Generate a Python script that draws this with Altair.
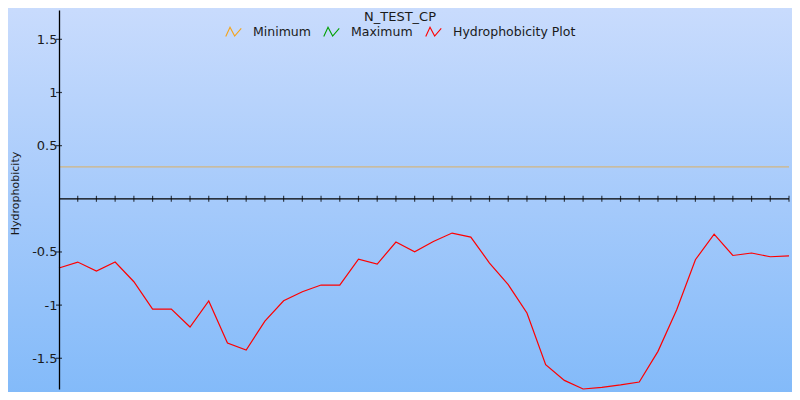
import altair as alt
import pandas as pd

# ---- data ----
title_text = "N_TEST_CP"
y_title = "Hydrophobicity"
series_names = ["Minimum", "Maximum", "Hydrophobicity Plot"]
series_colors = ["#f5a31a", "#00a000", "#ff0000"]
positions = list(range(40))
hydro = [-0.651, -0.595, -0.680, -0.595, -0.780, -1.037, -1.037, -1.206, -0.961, -1.356,
         -1.422, -1.151, -0.959, -0.874, -0.811, -0.811, -0.567, -0.614, -0.407, -0.498,
         -0.401, -0.322, -0.360, -0.604, -0.808, -1.074, -1.560, -1.708, -1.789, -1.773,
         -1.751, -1.723, -1.435, -1.043, -0.573, -0.332, -0.533, -0.510, -0.545, -0.536]
minimum_level = 0.3
y_ticks = [1.5, 1, 0.5, -0.5, -1, -1.5]
x_ticks = list(range(1, 40))
x_domain = [0, 39]
y_domain = [-1.789, 1.776]

W, H = 730, 379
FONT = "DejaVu Sans"
TXT = "#1a1a1a"

line_df = pd.DataFrame({"pos": positions, "val": hydro, "series": series_names[2]})
min_df = pd.DataFrame({"pos": [x_domain[0]], "pos2": [x_domain[1]], "val": [minimum_level],
                       "series": [series_names[0]]})
zero_df = pd.DataFrame({"pos": [x_domain[0]], "pos2": [x_domain[1]], "val": [0.0]})
xtick_df = pd.DataFrame({"pos": x_ticks, "val": [0.0] * len(x_ticks)})
ytick_df = pd.DataFrame({"val": y_ticks})
title_df = pd.DataFrame({"t": [title_text]})
bg_df = pd.DataFrame({"k": [0]})

xs = alt.Scale(domain=x_domain, nice=False, zero=False)
ys = alt.Scale(domain=y_domain, nice=False, zero=False)

y_axis = alt.Axis(values=y_ticks, labelExpr="'' + datum.value", ticks=False, grid=False,
                  domainColor="black", domainWidth=1.3, labelColor=TXT, labelFont=FONT,
                  labelFontSize=13, labelPadding=2, title=y_title, titleFont=FONT,
                  titleFontSize=11, titleFontWeight="normal", titleColor=TXT,
                  titleX=-44, titleY=183, titleAngle=270, titleBaseline="middle",
                  titleAlign="center", zindex=1)


def X(field="pos"):
    return alt.X(f"{field}:Q", scale=xs, axis=None)


def Y():
    return alt.Y("val:Q", scale=ys, axis=y_axis)


zig = "M-1,0.6L-0.45,-0.6L0.15,0.55L1,-0.45"
color = alt.Color("series:N", scale=alt.Scale(domain=series_names, range=series_colors),
                  legend=alt.Legend(orient="none", legendX=166, legendY=13, direction="horizontal",
                                    title=None, symbolType=zig, symbolSize=240,
                                    symbolStrokeWidth=1.1, labelFont=FONT, labelFontSize=12.5,
                                    labelColor=TXT, labelOffset=11, columnPadding=10,
                                    padding=0, zindex=2))

bg = alt.Chart(bg_df).mark_rect(
    fill=alt.LinearGradient(gradient="linear",
                            stops=[alt.GradientStop(offset=0, color="#cadcfd"),
                                   alt.GradientStop(offset=0.5, color="#a5cafb"),
                                   alt.GradientStop(offset=1, color="#80b9f9")],
                            x1=0, x2=0, y1=0, y2=1)
).encode(x=alt.value(-60), x2=alt.value(W + 20), y=alt.value(-10), y2=alt.value(H + 20))

min_rule = alt.Chart(min_df).mark_rule(strokeWidth=0.8, strokeOpacity=0.85).encode(
    x=X(), x2="pos2:Q", y=Y(), color=color)

zero_rule = alt.Chart(zero_df).mark_rule(color="black", strokeWidth=1.2).encode(
    x=X(), x2="pos2:Q", y=Y())

xticks = alt.Chart(xtick_df).mark_tick(orient="vertical", size=6, thickness=1.2,
                                       color="black").encode(x=X(), y=Y())

yticks = alt.Chart(ytick_df).mark_tick(orient="horizontal", size=6, thickness=1.2,
                                       color="black").encode(x=alt.value(0), y=Y())

line = alt.Chart(line_df).mark_line(strokeWidth=1.2).encode(x=X(), y=Y(), color=color)

title = alt.Chart(title_df).mark_text(font=FONT, fontSize=13, color=TXT, align="center",
                                      baseline="alphabetic").encode(
    x=alt.value(341), y=alt.value(10.5), text="t:N")

chart = alt.layer(bg, min_rule, zero_rule, xticks, yticks, line, title).properties(
    width=W, height=H,
    autosize=alt.AutoSizeParams(type="none"),
    padding={"left": 51, "top": 2, "right": 3, "bottom": 3},
    background="#a8ccfb",
).configure_view(stroke=None)

chart.save("out.html", embed_options={"renderer": "svg", "actions": False})
